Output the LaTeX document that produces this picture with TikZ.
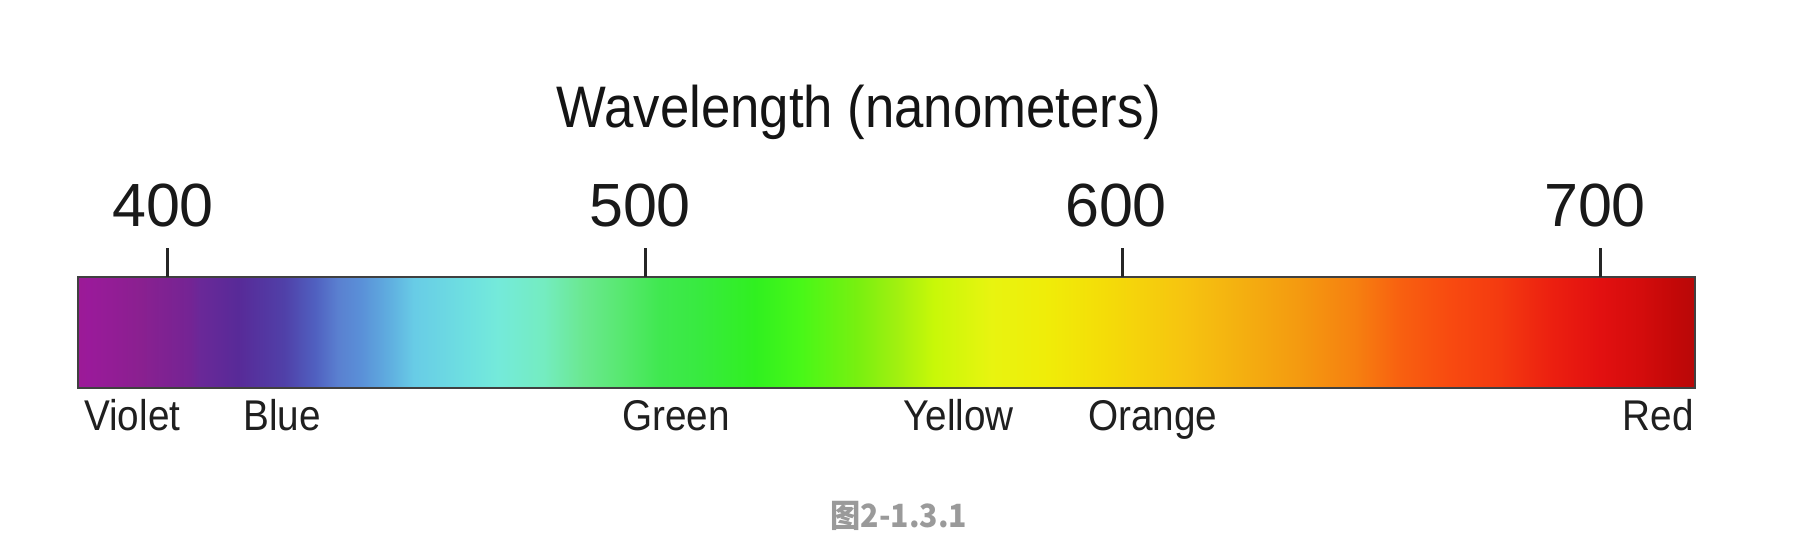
\documentclass[tikz,border=0pt]{standalone}
\usepackage{fontspec}
\usepackage{graphicx}
\setmainfont{Liberation Sans}
\newfontfamily\cjk{Noto Sans CJK SC}
\definecolor{s00}{HTML}{9C1A96}
\definecolor{s01}{HTML}{9A1A9A}
\definecolor{s02}{HTML}{8A2090}
\definecolor{s03}{HTML}{742494}
\definecolor{s04}{HTML}{6A2898}
\definecolor{s05}{HTML}{582A98}
\definecolor{s06}{HTML}{5040A8}
\definecolor{s07}{HTML}{5060C0}
\definecolor{s08}{HTML}{5A80D0}
\definecolor{s09}{HTML}{5A90D8}
\definecolor{s10}{HTML}{60B0E0}
\definecolor{s11}{HTML}{68CCE6}
\definecolor{s12}{HTML}{6EE0E0}
\definecolor{s13}{HTML}{74EADA}
\definecolor{s14}{HTML}{74ECC0}
\definecolor{s15}{HTML}{6AE890}
\definecolor{s16}{HTML}{58E870}
\definecolor{s17}{HTML}{40E850}
\definecolor{s18}{HTML}{38EA40}
\definecolor{s19}{HTML}{30F020}
\definecolor{s20}{HTML}{48F818}
\definecolor{s21}{HTML}{78F010}
\definecolor{s22}{HTML}{A0F010}
\definecolor{s23}{HTML}{C8F808}
\definecolor{s24}{HTML}{E8F410}
\definecolor{s25}{HTML}{F0EC08}
\definecolor{s26}{HTML}{F4DC08}
\definecolor{s27}{HTML}{F6C410}
\definecolor{s28}{HTML}{F4B010}
\definecolor{s29}{HTML}{F49A10}
\definecolor{s30}{HTML}{F68010}
\definecolor{s31}{HTML}{F86010}
\definecolor{s32}{HTML}{F84A10}
\definecolor{s33}{HTML}{F43A10}
\definecolor{s34}{HTML}{EC2010}
\definecolor{s35}{HTML}{E21010}
\definecolor{s36}{HTML}{D40C0C}
\definecolor{s37}{HTML}{C20808}
\definecolor{s38}{HTML}{B80808}
\definecolor{capgray}{HTML}{9A9A9A}
\pgfdeclarehorizontalshading{spectrum}{100bp}{color(0bp)=(s00); color(25bp)=(s00);
 color(25.31bp)=(s01); color(26.92bp)=(s02); color(28.46bp)=(s03); color(28.77bp)=(s04);
 color(29.95bp)=(s05); color(31.37bp)=(s06); color(32.33bp)=(s07); color(33.04bp)=(s08);
 color(33.75bp)=(s09); color(34.68bp)=(s10); color(35.39bp)=(s11); color(37.06bp)=(s12);
 color(37.99bp)=(s13); color(39.41bp)=(s14); color(40.62bp)=(s15); color(41.79bp)=(s16);
 color(42.97bp)=(s17); color(44.17bp)=(s18); color(45.93bp)=(s19); color(47.33bp)=(s20);
 color(49.09bp)=(s21); color(50.29bp)=(s22); color(51.47bp)=(s23); color(53.23bp)=(s24);
 color(55.02bp)=(s25); color(56.79bp)=(s26); color(59.17bp)=(s27); color(60.93bp)=(s28);
 color(62.72bp)=(s29); color(64.49bp)=(s30); color(65.88bp)=(s31); color(67.42bp)=(s32);
 color(68.97bp)=(s33); color(70.52bp)=(s34); color(72.06bp)=(s35); color(73.30bp)=(s36);
 color(74.38bp)=(s37); color(75bp)=(s38); color(100bp)=(s38)}
\begin{document}
\begin{tikzpicture}[x=1pt,y=-1pt,
  num/.style={inner sep=0pt, anchor=base, font=\fontsize{61}{70}\selectfont, text=black!90},
  lab/.style={inner sep=0pt, font=\fontsize{43}{50}\selectfont, text=black!88},
  tickline/.style={line width=3pt, draw=black!85}]
\useasboundingbox[fill=white] (0,0) rectangle (1800,540);
% spectrum bar
\shade[shading=spectrum] (78,277) rectangle (1695,388);
\draw[line width=2pt, black!75] (78,277) rectangle (1695,388);
% ticks
\foreach \n/\x in {400/167,500/645,600/1122,700/1600}{
  \coordinate (b\n) at (\x,277);
  \coordinate (u\n) at (\x,248);
  \draw[tickline] (b\n) -- (u\n);
}
% numbers
\node[num] (n400) at (163,227) {400};
\node[num] (n500) at (640,227) {500};
\node[num] (n600) at (1116,227) {600};
\node[num] (n700) at (1595,227) {700};
% title
\node[inner sep=0pt, anchor=base, font=\fontsize{58.6}{66}\selectfont, text=black!92] (title) at (859,128) {\scalebox{0.9}[1]{Wavelength (nanometers)}};
% colour labels
\node[lab, anchor=base west] (violet) at (84,430) {\scalebox{0.9}[1]{Violet}};
\node[lab, anchor=base west] (blue) at (243,430) {\scalebox{0.9}[1]{Blue}};
\node[lab, anchor=base west] (green) at (622,430) {\scalebox{0.9}[1]{Green}};
\node[lab, anchor=base west] (yellow) at (903,430) {\scalebox{0.9}[1]{Yellow}};
\node[lab, anchor=base west] (orange) at (1088,430) {\scalebox{0.9}[1]{Orange}};
\node[lab, anchor=base east] (red) at (1694,430) {\scalebox{0.9}[1]{Red}};
% caption
\node[inner sep=0pt, anchor=base, font=\cjk\bfseries\fontsize{32}{36}\selectfont, text=capgray] (cap) at (899,527) {\scalebox{0.944}[1]{图2-1.3.1}};
\end{tikzpicture}
\end{document}
